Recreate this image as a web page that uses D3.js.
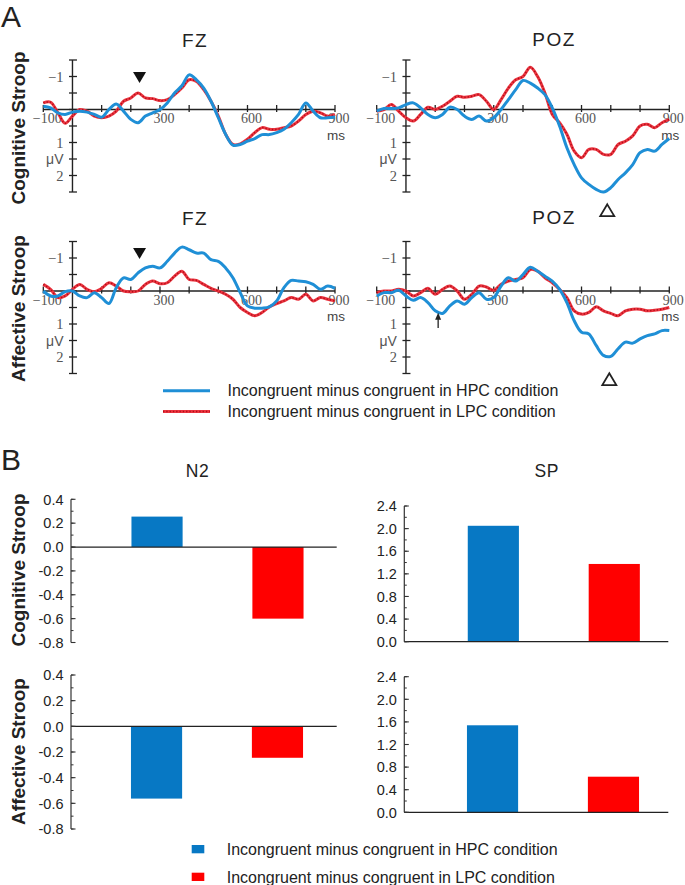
<!DOCTYPE html>
<html><head><meta charset="utf-8">
<script src="https://cdn.jsdelivr.net/npm/d3@7"></script>
<style>
body{margin:0;background:#fff}
svg{display:block}
text{font-family:"Liberation Sans",Arial,Helvetica,sans-serif}
</style>
</head><body>
<svg id="c" width="685" height="885"></svg>
<script>
// ---------------- DATA ----------------
const times = [-100,-75,-50,-25,0,25,50,75,100,125,150,175,200,225,250,275,300,325,350,375,400,425,450,475,500,525,550,575,600,625,650,675,700,725,750,775,800,825,850,875,900];

const cogFzHPC = [-0.1,-0.05,0.1,0.15,0.08,0.05,0.08,0.15,0.23,0.0,-0.17,0.05,0.3,0.4,0.2,0.1,0.0,-0.2,-0.5,-0.72,-1.05,-0.9,-0.65,-0.25,0.25,0.75,1.08,1.06,0.96,0.88,0.76,0.76,0.7,0.6,0.4,0.15,-0.2,0.05,0.25,0.25,0.23];
const cogFzLPC = [-0.2,-0.22,0.1,0.42,0.2,0.0,0.05,0.2,0.25,0.2,0.05,-0.25,-0.35,-0.5,-0.35,-0.33,-0.27,-0.3,-0.45,-0.65,-0.9,-0.85,-0.6,-0.25,0.2,0.75,1.06,1.04,0.9,0.7,0.55,0.6,0.6,0.55,0.5,0.35,0.15,0.05,0.1,0.2,0.15];
const cogPozHPC = [0.05,-0.03,-0.03,-0.05,-0.15,-0.2,-0.05,0.15,0.25,0.15,-0.07,0.0,0.2,0.3,0.2,0.35,0.25,0.0,-0.3,-0.6,-0.88,-0.8,-0.65,-0.45,-0.05,0.5,1.16,1.67,2.07,2.27,2.42,2.5,2.37,2.12,1.92,1.67,1.31,1.21,1.26,1.06,0.88];
const cogPozLPC = [0.05,0.0,-0.15,0.05,0.25,0.35,0.15,-0.07,0.0,-0.1,-0.25,-0.4,-0.37,-0.4,-0.45,-0.25,0.0,-0.3,-0.65,-0.9,-1.0,-1.28,-1.0,-0.5,0.15,0.4,0.75,1.26,1.46,1.21,1.21,1.36,1.36,1.06,0.96,0.8,0.5,0.45,0.55,0.4,0.3];
const affFzHPC = [0.0,0.15,0.15,0.02,0.0,0.15,0.2,0.05,0.2,0.38,-0.1,-0.4,-0.35,-0.55,-0.7,-0.75,-0.7,-0.9,-1.15,-1.33,-1.25,-1.15,-1.15,-0.95,-0.9,-0.7,-0.4,0.05,0.45,0.52,0.52,0.48,0.3,-0.1,-0.32,-0.3,-0.28,-0.2,-0.05,-0.15,-0.08];
const affFzLPC = [-0.2,-0.05,0.2,0.15,-0.05,-0.2,-0.05,0.02,-0.08,-0.25,-0.15,0.0,0.02,0.0,-0.2,-0.3,-0.22,-0.25,-0.45,-0.6,-0.35,-0.32,-0.2,-0.08,0.0,0.1,0.25,0.5,0.65,0.75,0.65,0.48,0.38,0.3,0.2,0.25,0.1,0.3,0.2,0.25,0.3];
const affPozHPC = [0.15,0.05,0.05,-0.02,0.15,0.28,0.2,0.35,0.6,0.68,0.45,0.3,0.4,0.2,0.05,0.25,0.2,-0.15,-0.4,-0.3,-0.5,-0.72,-0.6,-0.45,-0.3,-0.05,0.35,0.9,1.25,1.3,1.65,1.95,1.98,1.75,1.55,1.58,1.45,1.35,1.3,1.2,1.2];
const affPozLPC = [0.05,0.0,0.0,-0.05,0.0,0.15,0.05,-0.08,0.1,-0.05,-0.15,0.0,0.25,0.1,-0.15,-0.12,-0.02,-0.2,-0.3,-0.35,-0.4,-0.65,-0.6,-0.4,-0.25,-0.05,0.2,0.6,0.7,0.65,0.48,0.6,0.68,0.75,0.6,0.55,0.55,0.6,0.58,0.55,0.5];

const erpXTickValues = [-100,100,200,300,400,500,600,700,800,900];
const erpXTickLabels = [-100,300,600,900];
const erpYTickValues = [-1.5,-1,-0.5,0,0.5,1,1.5,2,2.5];
const erpYLabels = ["−1","1","μV","2"];
const erpYLabelValues = [-1,1,1.5,2];

const conditions = ["HPC","LPC"];
const n2Cog = [0.255,-0.60];
const n2Aff = [-0.563,-0.245];
const spCog = [2.05,1.375];
const spAff = [1.54,0.63];
const n2TickValues = [0.4,0.2,0.0,-0.2,-0.4,-0.6,-0.8];
const n2TickLabels = ["0.4","0.2","0.0","-0.2","-0.4","-0.6","-0.8"];
const spTickValues = [2.4,2.0,1.6,1.2,0.8,0.4,0.0];
const spTickLabels = ["2.4","2.0","1.6","1.2","0.8","0.4","0.0"];
const legendLabels = ["Incongruent minus congruent in HPC condition","Incongruent minus congruent in LPC condition"];

// ---------------- STYLE ----------------
const BLUE_LINE = "#1f8fd6", RED_LINE = "#ec3540", RED_DOT = "#b00d18";
const BAR_COLORS = ["#0778c4","#ff0000"];
const AX = "#222";
const SERIF = "'Liberation Serif','Times New Roman',serif";
const svg = d3.select("#c");

// ---------------- PANEL A (ERP) ----------------
const erpPanels = [
  {title:"FZ", x0:43.3, x1:335, zeroY:109.5, hpc:cogFzHPC, lpc:cogFzLPC, titleX:195, titleY:46.5},
  {title:"POZ", x0:376.7, x1:669.3, zeroY:109.5, hpc:cogPozHPC, lpc:cogPozLPC, titleX:554, titleY:46},
  {title:"FZ", x0:43.3, x1:335, zeroY:291, hpc:affFzHPC, lpc:affFzLPC, titleX:195, titleY:225},
  {title:"POZ", x0:376.7, x1:669.3, zeroY:291, hpc:affPozHPC, lpc:affPozLPC, titleX:554, titleY:224}
];
const PXUV = 33;
const markers = [
  {panel:0, t:230, v:-0.97, type:"filled"},
  {panel:2, t:230, v:-1.14, type:"filled"},
  {panel:1, t:688, v:3.05, type:"open"},
  {panel:3, t:695, v:2.67, type:"open"},
  {panel:3, t:110, v:1.12, v2:0.66, type:"arrow"}
];

const erpScales = erpPanels.map(p => ({
  x: d3.scaleLinear().domain([-100,900]).range([p.x0,p.x1]),
  y: d3.scaleLinear().domain([-1.5,2.5]).range([p.zeroY-1.5*PXUV, p.zeroY+2.5*PXUV])
}));

erpPanels.forEach((p,i) => {
  const {x,y} = erpScales[i];
  const g = svg.append("g");
  const ax0 = x(0), y0 = y(0);
  g.append("line").attr("x1",x(-100)).attr("x2",x(900)).attr("y1",y0).attr("y2",y0).attr("stroke",AX).attr("stroke-width",1.4);
  g.selectAll(".xt").data(erpXTickValues).join("line")
    .attr("x1",d=>x(d)).attr("x2",d=>x(d)).attr("y1",y0-4.5).attr("y2",y0+2.5)
    .attr("stroke",AX).attr("stroke-width",1.3);
  g.selectAll(".xl").data(erpXTickLabels).join("text")
    .attr("x",d=>x(d)+4).attr("y",y0+13.5).attr("text-anchor","middle")
    .style("font-family",SERIF).style("font-size","14px").attr("fill","#555")
    .text(d=> d<0 ? "−"+Math.abs(d) : d);
  g.append("text").attr("x",x(900)+1).attr("y",y0+30).attr("text-anchor","middle")
    .style("font-size","13.5px").attr("fill","#444").text("ms");
  g.append("line").attr("x1",ax0).attr("x2",ax0).attr("y1",y(-1.5)).attr("y2",y(2.5)).attr("stroke",AX).attr("stroke-width",1.4);
  g.selectAll(".yt").data(erpYTickValues).join("line")
    .attr("x1",ax0-3.5).attr("x2",ax0+4.5).attr("y1",d=>y(d)).attr("y2",d=>y(d))
    .attr("stroke",AX).attr("stroke-width",1.3);
  g.selectAll(".yl").data(erpYLabelValues).join("text")
    .attr("x",ax0-9).attr("y",d=>y(d)+5).attr("text-anchor","end")
    .style("font-family",(d,j)=> erpYLabels[j]==="μV" ? "'Liberation Sans',Arial,sans-serif" : SERIF)
    .style("font-size",(d,j)=> erpYLabels[j]==="μV" ? "14px" : "14.5px").attr("fill","#555")
    .text((d,j)=>erpYLabels[j]);
  g.append("text").attr("x",p.titleX).attr("y",p.titleY).attr("text-anchor","middle")
    .style("font-size","19px").style("letter-spacing","1.5px").attr("fill","#222").text(p.title);
  const line = d3.line().x((d,j)=>x(times[j])).y(d=>y(d)).curve(d3.curveCatmullRom.alpha(0.5));
  g.append("path").attr("d",line(p.lpc)).attr("fill","none").attr("stroke",RED_LINE).attr("stroke-width",3).attr("stroke-linejoin","round");
  g.append("path").attr("d",line(p.lpc)).attr("fill","none").attr("stroke",RED_DOT).attr("stroke-width",1.5).attr("stroke-dasharray","1.3,2");
  g.append("path").attr("d",line(p.hpc)).attr("fill","none").attr("stroke",BLUE_LINE).attr("stroke-width",3).attr("stroke-linejoin","round");
});

markers.forEach(m => {
  const {x,y} = erpScales[m.panel];
  const cx = x(m.t), cy = y(m.v);
  if (m.type==="filled") {
    svg.append("path").attr("d",`M${cx-6.5},${cy-5.5}L${cx+6.5},${cy-5.5}L${cx},${cy+5.5}Z`).attr("fill","#111");
  } else if (m.type==="open") {
    svg.append("path").attr("d",`M${cx},${cy-5.8}L${cx+7},${cy+6}L${cx-7},${cy+6}Z`).attr("fill","none").attr("stroke","#222").attr("stroke-width",1.8).attr("stroke-linejoin","miter");
  } else {
    const yt = y(m.v), yh = y(m.v2);
    svg.append("line").attr("x1",cx).attr("x2",cx).attr("y1",yt).attr("y2",yh+5).attr("stroke","#222").attr("stroke-width",1.3);
    svg.append("path").attr("d",`M${cx},${yh}L${cx+3},${yh+7}L${cx-3},${yh+7}Z`).attr("fill","#222");
  }
});

svg.append("text").attr("x",1).attr("y",27).style("font-size","30px").attr("fill","#222").text("A");
svg.append("text").attr("x",1).attr("y",470).style("font-size","30px").attr("fill","#222").text("B");
const rowLabels = [
  {t:"Cognitive Stroop", cy:128},
  {t:"Affective Stroop", cy:308.5},
  {t:"Cognitive Stroop", cy:570},
  {t:"Affective Stroop", cy:751.5}
];
rowLabels.forEach(r => {
  svg.append("text").attr("transform",`translate(25,${r.cy}) rotate(-90)`).attr("text-anchor","middle")
    .style("font-size","19px").style("font-weight","bold").attr("fill","#222").text(r.t);
});

const legA = [{y:390.7},{y:411.5}];
legA.forEach((l,i) => {
  if (i===0) {
    svg.append("line").attr("x1",163).attr("x2",210).attr("y1",l.y).attr("y2",l.y).attr("stroke",BLUE_LINE).attr("stroke-width",3);
  } else {
    svg.append("line").attr("x1",163).attr("x2",210).attr("y1",l.y).attr("y2",l.y).attr("stroke",RED_LINE).attr("stroke-width",3);
    svg.append("line").attr("x1",163).attr("x2",210).attr("y1",l.y).attr("y2",l.y).attr("stroke",RED_DOT).attr("stroke-width",1.5).attr("stroke-dasharray","1.3,2");
  }
  svg.append("text").attr("x",227.5).attr("y",l.y+5.5).style("font-size","16px").attr("fill","#222").text(legendLabels[i]);
});

const barPanels = [
  {title:"N2", values:n2Cog, domain:[-0.8,0.4], top:499.3, bottom:642.5, axisX:71, axisEnd:336.7, bandStart:71, ticks:n2TickValues, labels:n2TickLabels, minorStep:0.1, titleX:197.5},
  {title:"SP", values:spCog, domain:[0,2.4], top:506, bottom:641.7, axisX:404.3, axisEnd:668.3, bandStart:407.3, ticks:spTickValues, labels:spTickLabels, minorStep:0.2, titleX:546.7},
  {title:null, values:n2Aff, domain:[-0.8,0.4], top:675, bottom:829, axisX:71, axisEnd:336.7, bandStart:70.5, ticks:n2TickValues, labels:n2TickLabels, minorStep:0.1},
  {title:null, values:spAff, domain:[0,2.4], top:676.7, bottom:812.3, axisX:404.3, axisEnd:668.3, bandStart:406.5, ticks:spTickValues, labels:spTickLabels, minorStep:0.2}
];

barPanels.forEach(p => {
  const y = d3.scaleLinear().domain(p.domain).range([p.bottom,p.top]);
  const x = d3.scaleBand().domain(conditions).range([p.bandStart, p.bandStart+293]).paddingInner(0.577).paddingOuter(0.5);
  const g = svg.append("g");
  g.selectAll("rect").data(p.values).join("rect")
    .attr("x",(d,i)=>x(conditions[i])).attr("width",x.bandwidth())
    .attr("y",d=>y(Math.max(0,d))).attr("height",d=>Math.abs(y(d)-y(0)))
    .attr("fill",(d,i)=>BAR_COLORS[i]);
  g.append("line").attr("x1",p.axisX).attr("x2",p.axisEnd).attr("y1",y(0)).attr("y2",y(0)).attr("stroke","#222").attr("stroke-width",1.2);
  const minors = d3.range(p.domain[0], p.domain[1]+1e-9, p.minorStep);
  g.selectAll(".mt").data(minors).join("line")
    .attr("x1",p.axisX).attr("x2",p.axisX+2.5).attr("y1",d=>y(d)).attr("y2",d=>y(d)).attr("stroke","#333").attr("stroke-width",1);
  g.selectAll(".Mt").data(p.ticks).join("line")
    .attr("x1",p.axisX).attr("x2",p.axisX+4.5).attr("y1",d=>y(d)).attr("y2",d=>y(d)).attr("stroke","#333").attr("stroke-width",1.1);
  g.append("line").attr("x1",p.axisX).attr("x2",p.axisX).attr("y1",y(p.domain[0])).attr("y2",y(p.domain[1])).attr("stroke","#333").attr("stroke-width",1.2);
  g.selectAll(".tl").data(p.ticks).join("text")
    .attr("x",p.axisX-7.5).attr("y",d=>y(d)+5.2).attr("text-anchor","end")
    .style("font-size","14.5px").attr("fill","#222").text((d,i)=>p.labels[i]);
  if (p.title) {
    g.append("text").attr("x",p.titleX).attr("y",476.7).attr("text-anchor","middle")
      .style("font-size","17.5px").style("letter-spacing","0.5px").attr("fill","#222").text(p.title);
  }
});

const legB = [{y:845},{y:872.7}];
legB.forEach((l,i) => {
  svg.append("rect").attr("x",191.7).attr("y",l.y).attr("width",12.6).attr("height",8.3).attr("fill",BAR_COLORS[i]);
  svg.append("text").attr("x",226.7).attr("y",l.y+10).style("font-size","16px").attr("fill","#222").text(legendLabels[i]);
});
</script>
</body></html>
